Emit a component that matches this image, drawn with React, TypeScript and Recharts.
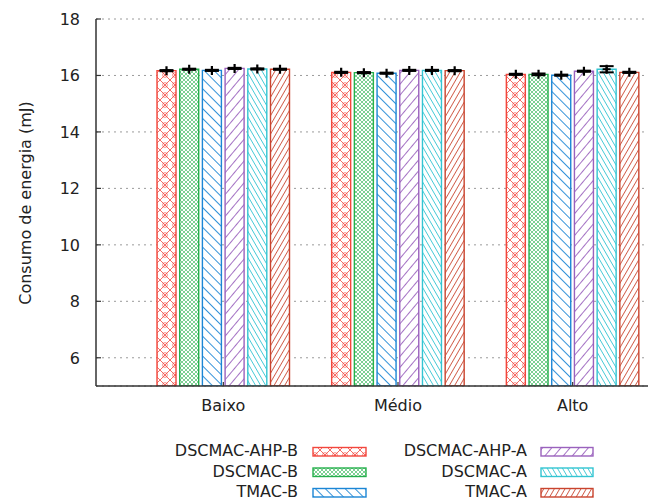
import React from 'react';
import { BarChart, Bar, XAxis, YAxis, CartesianGrid, ErrorBar, LabelList } from 'recharts';

const categories = ['Baixo', 'Médio', 'Alto'];
const seriesNames = ['DSCMAC-AHP-B', 'DSCMAC-B', 'TMAC-B', 'DSCMAC-AHP-A', 'DSCMAC-A', 'TMAC-A'];
const seriesColors = ['#f2473d', '#25b04c', '#1c86d5', '#9a62bd', '#33c5d2', '#c9442e'];

const dscmacAhpB = [16.17, 16.11, 16.04];
const dscmacB = [16.22, 16.1, 16.04];
const tmacB = [16.18, 16.08, 16.01];
const dscmacAhpA = [16.25, 16.18, 16.15];
const dscmacA = [16.23, 16.18, 16.22];
const tmacA = [16.22, 16.17, 16.11];

const errDscmacAhpB = [0.02, 0.02, 0.02];
const errDscmacB = [0.02, 0.02, 0.03];
const errTmacB = [0.02, 0.02, 0.02];
const errDscmacAhpA = [0.02, 0.02, 0.02];
const errDscmacA = [0.02, 0.02, 0.11];
const errTmacA = [0.02, 0.02, 0.02];

const yTicks = [6, 8, 10, 12, 14, 16, 18];
const yLabel = 'Consumo de energia (mJ)';

const seriesValues = [dscmacAhpB, dscmacB, tmacB, dscmacAhpA, dscmacA, tmacA];
const seriesErrors = [errDscmacAhpB, errDscmacB, errTmacB, errDscmacAhpA, errDscmacA, errTmacA];

const data = categories.map((c, i) => {
  const row: any = { category: c };
  seriesValues.forEach((vals, s) => {
    row['v' + s] = vals[i];
    row['e' + s] = seriesErrors[s][i];
  });
  return row;
});

const FONT = 'DejaVu Sans';

function Patterns({ prefix }: { prefix: string }) {
  const c = seriesColors;
  return (
    <defs>
      <pattern id={prefix + '0'} patternUnits="userSpaceOnUse" width="10" height="10">
        <rect width="10" height="10" fill="#fff" />
        <path d="M0,0 L10,10 M10,0 L0,10" stroke={c[0]} strokeWidth="0.8" fill="none" />
        <circle cx="5" cy="5" r="2.4" stroke={c[0]} strokeWidth="0.6" fill="none" />
      </pattern>
      <pattern id={prefix + '1'} patternUnits="userSpaceOnUse" width="4" height="4">
        <rect width="4" height="4" fill="#fff" />
        <path d="M0,0 L4,4 M4,0 L0,4" stroke={c[1]} strokeWidth="0.6" fill="none" />
      </pattern>
      <pattern id={prefix + '2'} patternUnits="userSpaceOnUse" width="7" height="7" patternTransform="rotate(-45)">
        <rect width="7" height="7" fill="#fff" />
        <line x1="3.5" y1="0" x2="3.5" y2="7" stroke={c[2]} strokeWidth="0.9" />
      </pattern>
      <pattern id={prefix + '3'} patternUnits="userSpaceOnUse" width="7" height="7" patternTransform="rotate(40)">
        <rect width="7" height="7" fill="#fff" />
        <line x1="3.5" y1="0" x2="3.5" y2="7" stroke={c[3]} strokeWidth="0.9" />
      </pattern>
      <pattern id={prefix + '4'} patternUnits="userSpaceOnUse" width="4.4" height="4.4" patternTransform="rotate(-30)">
        <rect width="4.4" height="4.4" fill="#fff" />
        <line x1="2.2" y1="0" x2="2.2" y2="4.4" stroke={c[4]} strokeWidth="0.8" />
      </pattern>
      <pattern id={prefix + '5'} patternUnits="userSpaceOnUse" width="4.6" height="4.6" patternTransform="rotate(30)">
        <rect width="4.6" height="4.6" fill="#fff" />
        <line x1="2.3" y1="0" x2="2.3" y2="4.6" stroke={c[5]} strokeWidth="0.8" />
      </pattern>
    </defs>
  );
}

const XTick = (props: any) => {
  const { x, y, payload } = props;
  return (
    <g>
      <line x1={x} y1={y} x2={x} y2={y - 4} stroke="#333" strokeWidth={1.2} />
      <text x={x} y={y + 25} textAnchor="middle" fontSize={16} fontFamily={FONT} fill="#222">
        {payload.value}
      </text>
    </g>
  );
};

const TopTick = (props: any) => {
  const { x, y } = props;
  return <line x1={x} y1={y} x2={x} y2={y + 4} stroke="#333" strokeWidth={1.2} />;
};

const YTick = (props: any) => {
  const { x, y, payload } = props;
  return (
    <g>
      <line x1={x} y1={y} x2={x + 5} y2={y} stroke="#333" strokeWidth={1.2} />
      <text x={x - 16} y={y + 6} textAnchor="end" fontSize={16} fontFamily={FONT} fill="#222">
        {payload.value}
      </text>
    </g>
  );
};

const PlusMarker = (props: any) => {
  const vb = props.viewBox || {};
  const x = props.x ?? vb.x;
  const y = props.y ?? vb.y;
  const w = props.width ?? vb.width;
  if (x == null || y == null || w == null) return null;
  const cx = Number(x) + Number(w) / 2;
  const cy = Number(y);
  return (
    <path
      d={`M${cx - 4},${cy} L${cx + 4},${cy} M${cx},${cy - 4.5} L${cx},${cy + 4.5}`}
      stroke="#000"
      strokeWidth={2.2}
      fill="none"
    />
  );
};

export default function App() {
  const legendLeft = [0, 1, 2];
  const legendRight = [3, 4, 5];
  const rowsY = [456, 476.5, 497];
  return (
    <div style={{ position: 'absolute', left: 0, top: 0, width: 648, height: 502, overflow: 'hidden', background: '#fff' }}>
      <BarChart
        width={660}
        height={502}
        data={data}
        margin={{ top: 19, right: 0, bottom: 0, left: 0 }}
        barSize={19}
        barGap={3.7}
        style={{ fontFamily: FONT }}
      >
        <Patterns prefix="pat" />
        <CartesianGrid vertical={false} stroke="#9a9a9a" strokeDasharray="2 4" />
        <XAxis
          dataKey="category"
          height={116}
          padding={{ left: 40, right: 0 }}
          tickSize={0}
          tickMargin={0}
          tickLine={false}
          tick={<XTick />}
          axisLine={{ stroke: '#333', strokeWidth: 1.5 }}
          interval={0}
        />
        <XAxis
          xAxisId="top"
          orientation="top"
          dataKey="category"
          height={0}
          padding={{ left: 40, right: 0 }}
          tickSize={0}
          tickMargin={0}
          tickLine={false}
          tick={<TopTick />}
          axisLine={{ stroke: '#333', strokeWidth: 1.5 }}
          interval={0}
        />
        <YAxis
          width={96}
          domain={[5, 18]}
          ticks={yTicks}
          type="number"
          allowDataOverflow
          tickSize={0}
          tickMargin={0}
          tickLine={false}
          tick={<YTick />}
          axisLine={{ stroke: '#333', strokeWidth: 1.5 }}
        />
        {seriesNames.map((name, s) => (
          <Bar
            key={name}
            name={name}
            dataKey={'v' + s}
            fill={`url(#pat${s})`}
            stroke={seriesColors[s]}
            strokeWidth={1.4}
            isAnimationActive={false}
          >
            <ErrorBar dataKey={'e' + s} width={7} stroke="#000" strokeWidth={2} direction="y" />
            <LabelList dataKey={'v' + s} content={PlusMarker} />
          </Bar>
        ))}
      </BarChart>
      <svg width={648} height={502} style={{ position: 'absolute', left: 0, top: 0, pointerEvents: 'none' }}>
        <Patterns prefix="lpat" />
        <text
          transform="translate(31,203) rotate(-90)"
          textAnchor="middle"
          fontSize={16}
          fontFamily={FONT}
          fill="#222"
        >
          {yLabel}
        </text>
        {legendLeft.map((s, r) => (
          <g key={'l' + s}>
            <text x={298} y={rowsY[r]} textAnchor="end" fontSize={16} fontFamily={FONT} fill="#222">
              {seriesNames[s]}
            </text>
            <rect x={313} y={rowsY[r] - 8.5} width={53} height={8.5} fill={`url(#lpat${s})`} stroke={seriesColors[s]} strokeWidth={1.4} />
          </g>
        ))}
        {legendRight.map((s, r) => (
          <g key={'r' + s}>
            <text x={527} y={rowsY[r]} textAnchor="end" fontSize={16} fontFamily={FONT} fill="#222">
              {seriesNames[s]}
            </text>
            <rect x={541} y={rowsY[r] - 8.5} width={52} height={8.5} fill={`url(#lpat${s})`} stroke={seriesColors[s]} strokeWidth={1.4} />
          </g>
        ))}
      </svg>
    </div>
  );
}
